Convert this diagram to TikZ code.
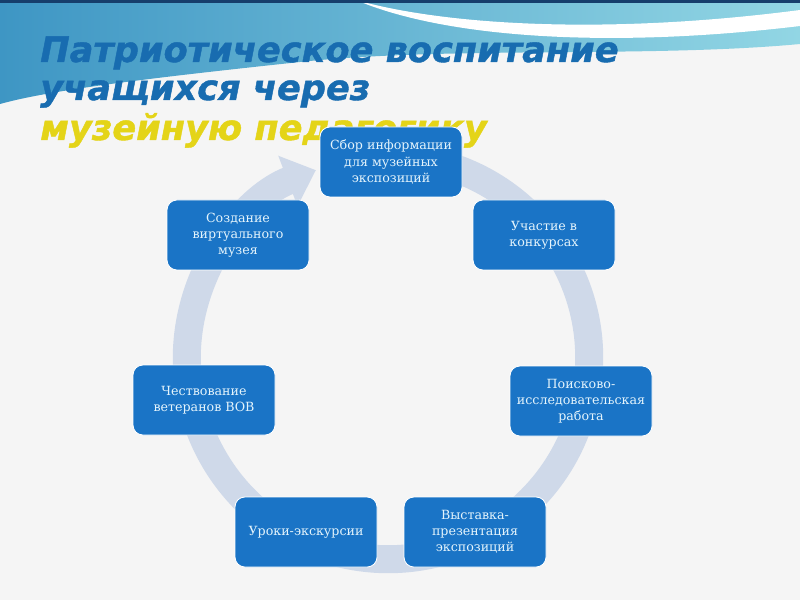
\documentclass[tikz,border=0pt]{standalone}
\usepackage{fontspec}
\setmainfont{DejaVu Serif}
\newfontfamily\titlefont[FakeBold=1.2]{DejaVu Sans}
\newfontfamily\boxfont{DejaVu Serif}
\usetikzlibrary{arrows.meta}
\definecolor{boxblue}{RGB}{26,116,198}
\definecolor{boxtext}{RGB}{228,244,252}
\definecolor{ringgrey}{RGB}{207,217,233}
\definecolor{titleblue}{RGB}{24,108,176}
\definecolor{titleyellow}{RGB}{228,212,24}
\definecolor{bandleft}{RGB}{62,150,196}
\definecolor{bandright}{RGB}{146,214,228}
\definecolor{topline}{RGB}{22,62,108}

\begin{document}
\begin{tikzpicture}[
    stage/.style={rectangle, rounded corners=7pt, fill=boxblue, draw=white, line width=0.6pt,
        text=boxtext, minimum width=3.55cm, minimum height=1.75cm, align=center, inner sep=2pt,
        font=\boxfont\fontsize{9}{11.5}\selectfont},
    heading/.style={anchor=base west, inner sep=0pt,
        font=\titlefont\bfseries\itshape\fontsize{25}{29}\selectfont},
    ring/.style={draw=ringgrey, line width=0.7cm, -{Triangle[width=1.3cm,length=0.75cm]}}
]
    \useasboundingbox (0,0) rectangle (20,15);

    % background and top band
    \fill[white!96!black] (0,0) rectangle (20,15);
    \shade[left color=bandleft, right color=bandright]
        (0,15) -- (20,15) -- (20,13.9)
        .. controls (16.25,13.55) and (11.25,13.85) .. (7.5,13.45)
        .. controls (3.75,13.05) and (1.25,12.75) .. (0,12.4) -- cycle;
    \fill[white] (8.9,15) .. controls (11,14.4) and (15,14.1) .. (20,14.75)
        -- (20,14.35) .. controls (15,13.75) and (11,14.1) .. (8.9,15) -- cycle;
    \fill[topline] (0,14.93) rectangle (20,15);

    % title
    \node[heading, text=titleblue] (t1) at (1.0,13.45) {Патриотическое воспитание};
    \node[heading, text=titleblue] (t2) at (1.0,12.5) {учащихся через};
    \node[heading, text=titleyellow] (t3) at (1.0,11.5) {музейную педагогику};

    % cycle
    \coordinate (c) at (9.7,6.05);
    \draw[ring] (c) ++(82:5.03) arc[start angle=82, end angle=-249, radius=5.03];

    % stages
    \node[stage] (collect) at (9.775,10.95) {Сбор информации\\для музейных\\экспозиций};
    \node[stage] (contest) at (13.6,9.125) {Участие в\\конкурсах};
    \node[stage] (search) at (14.525,4.975) {Поисково-\\исследовательская\\работа};
    \node[stage] (expo) at (11.875,1.7) {Выставка-\\презентация\\экспозиций};
    \node[stage] (lessons) at (7.65,1.7) {Уроки-экскурсии};
    \node[stage] (veterans) at (5.1,5.0) {Чествование\\ветеранов ВОВ};
    \node[stage] (virtual) at (5.95,9.125) {Создание\\виртуального\\музея};
\end{tikzpicture}
\end{document}
